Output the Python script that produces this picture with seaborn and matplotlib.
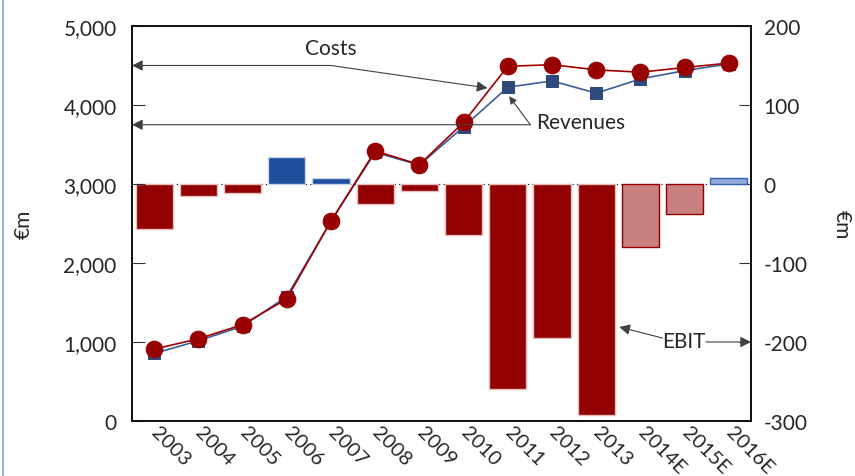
import numpy as np
import pandas as pd
import matplotlib
matplotlib.use("Agg")
import matplotlib.pyplot as plt
import seaborn as sns
from matplotlib.lines import Line2D
from matplotlib.ticker import FuncFormatter

# ---- data ----
years = ["2003", "2004", "2005", "2006", "2007", "2008", "2009", "2010",
         "2011", "2012", "2013", "2014E", "2015E", "2016E"]
revenues = [855, 1015, 1200, 1575, 2530, 3400, 3240, 3725,
            4225, 4305, 4150, 4330, 4435, 4520]
costs = [910, 1040, 1220, 1545, 2530, 3420, 3245, 3780,
         4490, 4510, 4445, 4415, 4475, 4530]
ebit = [-57, -15, -11, 34, 7, -25, -9, -64,
        -259, -195, -293, -80, -38, 7]

DARK_RED = "#930000"
LIGHT_RED = "#c98080"
BLUE = "#1f4e9c"
LIGHT_BLUE = "#8faad8"
SQ_BLUE = "#2e4a7d"

bar_colors = []
edge_colors = []
for y, v in zip(years, ebit):
    est = y.endswith("E")
    if v >= 0:
        bar_colors.append(LIGHT_BLUE if est else BLUE)
        edge_colors.append("#3464ae" if est else "#c8d4ea")
    else:
        bar_colors.append(LIGHT_RED if est else DARK_RED)
        edge_colors.append(DARK_RED if est else "#e6bcbc")

df = pd.DataFrame({"year": years, "revenues": revenues,
                   "costs": costs, "ebit": ebit})

sns.set_style("white")
plt.rcParams["font.family"] = ["Lato", "DejaVu Sans"]
plt.rcParams["axes.unicode_minus"] = False
FS = 15

fig = plt.figure(figsize=(8.55, 4.77), dpi=100)
ax = fig.add_axes([132 / 855, 1 - 422 / 477, 619 / 855, 395 / 477])
ax2 = ax.twinx()

# EBIT bars on right axis
sns.barplot(data=df, x="year", y="ebit", hue="year", palette=bar_colors,
            legend=False, width=0.84, ax=ax2, saturation=1)
for p, ec in zip(ax2.patches, edge_colors):
    p.set_edgecolor(ec)
    p.set_linewidth(1.0)
ax2.axhline(0, color="black", lw=0.8, ls=(0, (1, 3)), zorder=0.5)

# lines on left axis, drawn above bars
ax.set_zorder(ax2.get_zorder() + 1)
ax.patch.set_visible(False)
sns.lineplot(x=np.arange(len(years)), y=revenues, ax=ax, color="#3a5f9a",
             lw=1.2, marker="s", markersize=8, markerfacecolor=SQ_BLUE,
             markeredgecolor=SQ_BLUE, sort=False)
sns.lineplot(x=np.arange(len(years)), y=costs, ax=ax, color="#a00000",
             lw=1.2, marker="o", markersize=12, markerfacecolor="#990000",
             markeredgecolor="#990000", sort=False)

ax.set_xlim(-0.5, len(years) - 0.5)
ax.set_ylim(0, 5000)
ax2.set_ylim(-300, 200)
ax.set_yticks(np.arange(0, 5001, 1000))
ax2.set_yticks(np.arange(-300, 201, 100))
ax.yaxis.set_major_formatter(FuncFormatter(lambda v, _: f"{v:,.0f}"))

ax.set_xticks(np.arange(len(years)))
ax.set_xticklabels(years, rotation=-45, ha="left", va="center",
                   rotation_mode="anchor")
ax.set_xticks(np.arange(0.5, len(years) - 1, 1), minor=True)
ax.tick_params(axis="x", which="major", length=0, pad=6, labelsize=14.5)
ax.tick_params(axis="x", which="minor", direction="in", length=9,
               width=1, color="#333333")
ax.tick_params(axis="y", direction="in", length=9, pad=11, labelsize=FS,
               color="#333333")
ax2.tick_params(axis="y", direction="in", length=9, pad=9, labelsize=FS,
                color="#333333")
ax2.set_xlabel("")
ax.set_xlabel("")
ax.set_ylabel("€m", fontsize=FS)
ax.yaxis.set_label_coords(-0.158, 0.5)
ax2.set_ylabel("€m", fontsize=FS, rotation=-90, va="center")
ax2.yaxis.set_label_coords(1.147, 0.5)

for a in (ax, ax2):
    for s in a.spines.values():
        s.set_color("#111111")
        s.set_linewidth(1.3)

# annotations
arrow = dict(arrowstyle="-|>", color="#404040", lw=0.8, mutation_scale=16,
             shrinkA=0, shrinkB=0)
ax.text(4.0, 4720, "Costs", ha="center", va="center", fontsize=FS)
ax.annotate("", xy=(-0.5, 4500), xytext=(4.0, 4500), arrowprops=arrow)
ax.annotate("", xy=(7.54, 4215), xytext=(4.0, 4500), arrowprops=arrow)

ax.text(8.63, 3790, "Revenues", ha="left", va="center", fontsize=FS)
ax.annotate("", xy=(-0.5, 3750), xytext=(8.51, 3750), arrowprops=arrow)
ax.annotate("", xy=(8.03, 4110), xytext=(8.51, 3750),
            arrowprops=dict(arrow, mutation_scale=11))

ax2.text(11.98, -199, "EBIT", ha="center", va="center", fontsize=FS)
ax2.annotate("", xy=(10.52, -181), xytext=(11.5, -195), arrowprops=arrow)
ax2.annotate("", xy=(13.5, -200), xytext=(12.48, -200), arrowprops=arrow)

# slide frame line on the left
fig.add_artist(Line2D([3 / 855, 3 / 855], [0, 1], color="#9ab3d5", lw=1.5))

fig.savefig("out.png", dpi=100)
